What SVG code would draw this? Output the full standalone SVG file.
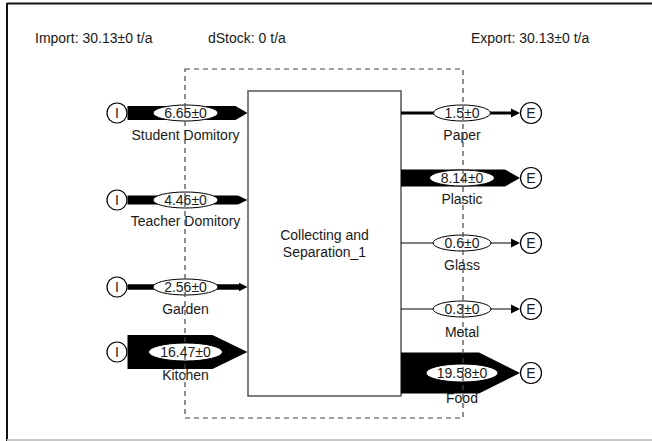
<svg xmlns="http://www.w3.org/2000/svg" width="652" height="441" viewBox="0 0 652 441">
<style>
text{font-family:"Liberation Sans",Arial,sans-serif;font-size:14px;fill:#1a1a1a;text-anchor:middle}
.hdr{text-anchor:start}
.flow{fill:#000;stroke:none}
.oval{fill:#fff;stroke:#000;stroke-width:1}
.term{fill:#fff;stroke:#000;stroke-width:1.2}
.box{fill:#fff;stroke:#555;stroke-width:1.5}
.sys{fill:none;stroke:#444;stroke-width:1.2;stroke-dasharray:5 4}
.ln{stroke:#000;fill:none}
</style>
<rect x="0" y="0" width="652" height="441" fill="#fff"/>
<g id="frame">
<line x1="7" y1="3.5" x2="652" y2="3.5" stroke="#111" stroke-width="2"/>
<line x1="7" y1="3" x2="7" y2="441" stroke="#111" stroke-width="2"/>
<line x1="7" y1="440" x2="652" y2="440" stroke="#c8c8c8" stroke-width="2"/>
</g>
<g id="header">
<text class="hdr" x="35" y="43">Import: 30.13±0 t/a</text>
<text class="hdr" x="208" y="43">dStock: 0 t/a</text>
<text class="hdr" x="471" y="43">Export: 30.13±0 t/a</text>
</g>
<g id="process">
<rect class="box" x="248" y="91" width="153" height="305"/>
<text x="324.5" y="240">Collecting and</text>
<text x="324.5" y="257">Separation_1</text>
</g>
<g id="labels">
<text x="185.5" y="140">Student Domitory</text>
<text x="185.5" y="226">Teacher Domitory</text>
<text x="185.5" y="314">Garden</text>
<text x="185.5" y="380">Kitchen</text>
<text x="462" y="140">Paper</text>
<text x="462" y="204">Plastic</text>
<text x="462" y="270">Glass</text>
<text x="462" y="337">Metal</text>
<text x="462" y="403">Food</text>
</g>
<g id="connectors">
<polygon class="flow" points="127.5,106.1 235.5,106.1 247.5,113 235.5,119.9 127.5,119.9"/>
<polygon class="flow" points="127.5,195.4 238,195.4 247.5,200 238,204.6 127.5,204.6"/>
<line class="ln" x1="127.5" y1="287" x2="241" y2="287" stroke-width="5.3"/>
<polygon class="flow" points="239,282.8 247.5,287 239,291.2"/>
<polygon class="flow" points="127.5,335 212.5,335 247.5,352 212.5,369 127.5,369"/>
<line class="ln" x1="401" y1="113" x2="513" y2="113" stroke-width="3"/>
<polygon class="flow" points="511,108.5 520,113 511,117.5"/>
<polygon class="flow" points="401,169.5 505,169.5 520,178 505,186.5 401,186.5"/>
<line class="ln" x1="401" y1="243" x2="513" y2="243" stroke-width="1.2"/>
<polygon class="flow" points="511,238.5 520,243 511,247.5"/>
<line class="ln" x1="401" y1="309" x2="513" y2="309" stroke-width="1"/>
<polygon class="flow" points="511,304.5 520,309 511,313.5"/>
<polygon class="flow" points="401,352.5 479,352.5 520,373 479,393.5 401,393.5"/>
</g>
<g id="values">
<ellipse class="oval" cx="185.5" cy="113" rx="32.5" ry="8"/><text x="185.5" y="118">6.65±0</text>
<ellipse class="oval" cx="185.5" cy="200" rx="32.5" ry="8"/><text x="185.5" y="205">4.46±0</text>
<ellipse class="oval" cx="185.5" cy="287" rx="32.5" ry="8"/><text x="185.5" y="292">2.56±0</text>
<ellipse class="oval" cx="185.5" cy="352" rx="37" ry="9"/><text x="185.5" y="357">16.47±0</text>
<ellipse class="oval" cx="462" cy="113" rx="28.5" ry="8"/><text x="462" y="118">1.5±0</text>
<ellipse class="oval" cx="462" cy="178" rx="32.5" ry="8"/><text x="462" y="183">8.14±0</text>
<ellipse class="oval" cx="462" cy="243" rx="29" ry="8"/><text x="462" y="248">0.6±0</text>
<ellipse class="oval" cx="462" cy="309" rx="29" ry="8"/><text x="462" y="314">0.3±0</text>
<ellipse class="oval" cx="462" cy="373" rx="36" ry="9"/><text x="462" y="378">19.58±0</text>
</g>
<g id="imports">
<g id="import-student"><circle class="term" cx="117" cy="113" r="10"/><text x="117" y="118">I</text></g>
<g id="import-teacher"><circle class="term" cx="117" cy="200" r="10"/><text x="117" y="205">I</text></g>
<g id="import-garden"><circle class="term" cx="117" cy="287" r="10"/><text x="117" y="292">I</text></g>
<g id="import-kitchen"><circle class="term" cx="117" cy="352" r="10"/><text x="117" y="357">I</text></g>
</g>
<g id="exports">
<g id="export-paper"><circle class="term" cx="531" cy="113" r="10.5"/><text x="531" y="118">E</text></g>
<g id="export-plastic"><circle class="term" cx="531" cy="178" r="10.5"/><text x="531" y="183">E</text></g>
<g id="export-glass"><circle class="term" cx="531" cy="243" r="10.5"/><text x="531" y="248">E</text></g>
<g id="export-metal"><circle class="term" cx="531" cy="309" r="10.5"/><text x="531" y="314">E</text></g>
<g id="export-food"><circle class="term" cx="531" cy="373" r="10.5"/><text x="531" y="378">E</text></g>
</g>
<g id="system-boundary">
<rect class="sys" x="185" y="69" width="278" height="349"/>
</g>
</svg>
